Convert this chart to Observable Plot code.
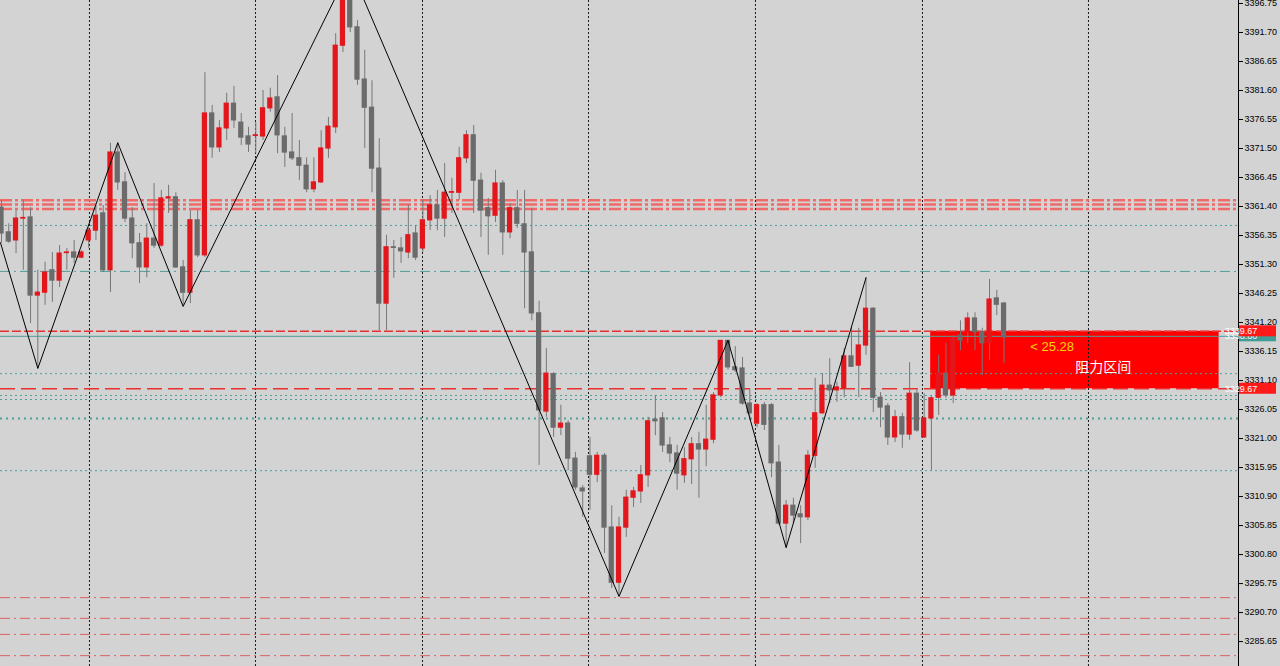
<!DOCTYPE html>
<html><head><meta charset="utf-8">
<script src="https://cdn.jsdelivr.net/npm/d3@7"></script>
<script src="https://cdn.jsdelivr.net/npm/@observablehq/plot@0.6"></script>
<style>html,body{margin:0;padding:0;background:#d3d3d3;overflow:hidden;width:1280px;height:666px}</style>
</head><body><div id="chart"></div>
<script>
// ---- candle data (bar index = position in arrays) ----
const opens  = [3361.2,3356.9,3355.5,3359.3,3359.5,3345.9,3346.4,3350.3,3348.5,3353.3,3353.4,3352.5,3355.5,3357.2,3360.2,3350.3,3370.8,3365.6,3359.3,3355.0,3350.8,3355.8,3354.6,3362.8,3363.0,3350.8,3346.4,3359.0,3352.9,3377.6,3371.7,3375.0,3379.3,3376.0,3373.6,3373.7,3373.6,3378.5,3380.4,3373.6,3370.8,3369.8,3368.5,3364.4,3365.6,3371.5,3375.2,3389.4,3397.8,3392.6,3383.5,3378.6,3368.0,3344.5,3354.3,3354.1,3353.4,3356.7,3354.1,3359.0,3361.6,3359.3,3363.8,3363.8,3369.8,3373.8,3365.9,3361.1,3359.8,3365.4,3356.9,3361.1,3358.3,3353.4,3342.8,3325.7,3332.2,3322.9,3323.6,3317.5,3312.3,3317.9,3314.7,3318.0,3305.5,3295.9,3305.5,3310.7,3311.8,3314.6,3324.3,3324.5,3319.8,3318.4,3314.6,3317.4,3320.0,3319.1,3320.8,3328.5,3338.0,3333.4,3333.2,3327.1,3323.6,3326.8,3326.8,3316.8,3306.2,3309.3,3307.8,3307.3,3318.0,3325.4,3330.2,3329.4,3329.7,3335.3,3333.7,3337.2,3343.6,3328.1,3326.6,3321.2,3324.7,3321.7,3328.8,3321.2,3324.5,3328.1,3332.3,3328.5,3338.9,3339.5,3341.9,3339.5,3337.6,3345.4,3344.5];
const highs  = [3362.5,3358.4,3360.7,3362.5,3361.2,3350.3,3351.7,3353.4,3354.6,3354.1,3355.5,3353.7,3357.7,3361.6,3361.6,3372.4,3372.5,3367.3,3361.2,3356.7,3358.4,3365.4,3364.2,3365.1,3363.8,3352.0,3360.7,3360.7,3384.7,3379.0,3376.4,3381.1,3382.3,3377.6,3375.2,3376.0,3381.6,3382.0,3384.2,3375.2,3377.6,3372.9,3369.9,3369.9,3374.6,3376.9,3391.5,3399.0,3403.0,3393.8,3388.6,3383.3,3373.2,3356.4,3355.5,3356.0,3361.6,3358.1,3362.5,3363.3,3364.2,3368.9,3366.3,3371.7,3374.6,3375.5,3367.2,3362.8,3367.7,3365.9,3361.9,3364.2,3364.2,3361.1,3344.9,3336.7,3332.5,3326.8,3324.1,3318.6,3312.8,3321.2,3318.6,3318.4,3309.3,3307.3,3312.0,3312.5,3316.3,3324.7,3328.5,3325.5,3321.2,3319.8,3319.4,3321.2,3322.1,3326.8,3329.0,3338.0,3338.1,3337.0,3335.1,3329.7,3327.1,3327.3,3327.1,3319.8,3310.2,3310.6,3309.3,3318.9,3331.5,3332.3,3334.9,3330.8,3336.7,3340.3,3340.2,3349.0,3343.8,3329.0,3327.1,3325.9,3325.4,3334.2,3329.4,3328.8,3328.3,3335.5,3337.6,3338.9,3341.5,3342.9,3342.9,3340.2,3348.7,3346.8,3344.7];
const lows   = [3355.0,3355.0,3353.2,3350.3,3341.0,3333.2,3344.2,3344.7,3347.3,3350.3,3351.5,3352.3,3354.1,3355.5,3349.9,3346.4,3364.2,3358.6,3352.3,3348.0,3349.0,3354.1,3354.3,3360.2,3350.6,3344.0,3344.5,3352.5,3352.5,3369.8,3370.8,3372.9,3375.0,3372.0,3370.8,3370.6,3372.9,3377.8,3370.6,3368.2,3369.4,3365.9,3363.8,3363.8,3365.4,3369.8,3374.1,3388.2,3391.7,3382.5,3371.5,3363.8,3339.8,3339.8,3348.9,3351.5,3352.3,3352.0,3353.4,3357.2,3357.2,3356.0,3360.2,3362.5,3368.9,3360.2,3356.0,3352.9,3358.6,3352.9,3355.8,3357.6,3343.6,3341.5,3316.3,3324.7,3321.2,3321.5,3315.4,3312.0,3307.3,3308.5,3313.3,3301.0,3294.9,3293.5,3303.8,3309.0,3309.7,3312.5,3321.5,3318.6,3316.8,3312.0,3313.2,3313.0,3310.6,3316.1,3320.1,3328.1,3332.9,3332.5,3326.8,3324.1,3322.9,3322.4,3314.2,3305.9,3302.0,3306.2,3302.7,3306.7,3315.8,3325.2,3327.1,3327.3,3328.1,3333.4,3328.1,3335.5,3325.5,3322.9,3319.8,3320.3,3319.3,3320.7,3322.1,3321.0,3315.4,3325.0,3328.0,3327.1,3336.3,3337.6,3336.3,3332.0,3334.6,3342.4,3334.1];
const closes = [3356.7,3355.3,3359.3,3359.4,3345.9,3346.4,3349.9,3348.5,3353.2,3353.4,3352.5,3353.4,3357.2,3359.8,3350.3,3370.8,3365.6,3359.3,3355.0,3350.8,3355.8,3354.6,3362.8,3363.0,3350.8,3346.4,3359.0,3352.9,3377.6,3371.7,3375.0,3379.3,3376.4,3373.4,3372.2,3373.8,3378.5,3380.2,3373.8,3370.8,3369.8,3368.5,3364.4,3365.6,3371.5,3375.3,3389.4,3397.8,3392.6,3383.5,3378.6,3368.0,3344.5,3354.3,3354.2,3353.6,3356.4,3352.5,3359.0,3361.6,3359.3,3363.8,3363.9,3369.8,3373.8,3365.9,3360.7,3359.7,3365.4,3356.9,3361.1,3358.4,3353.4,3342.8,3325.9,3332.3,3322.9,3323.6,3317.5,3312.5,3311.8,3314.7,3318.0,3305.5,3295.9,3305.5,3310.7,3311.8,3314.6,3324.0,3324.0,3319.8,3318.4,3314.9,3317.4,3320.0,3319.1,3320.8,3328.5,3338.0,3333.4,3332.9,3327.1,3325.4,3326.8,3323.4,3316.7,3306.2,3309.3,3307.6,3307.3,3318.0,3325.4,3330.2,3329.4,3329.9,3335.3,3333.5,3337.2,3343.6,3328.1,3326.4,3321.2,3324.7,3321.7,3328.8,3322.4,3324.5,3328.0,3332.3,3328.5,3338.4,3338.1,3341.9,3339.5,3337.6,3345.2,3344.3,3338.6];

// ---- zigzag swing points (bar index, price) ----
const zigzagBars   = [-0.14, 5, 16, 25, 48, 85, 100, 108, 119];
const zigzagPrices = [3355.1, 3333.2, 3372.5, 3344.0, 3403.0, 3293.5, 3338.1, 3302.0, 3349.0];

// ---- horizontal levels ----
const bandLevels      = [3362.5, 3361.75, 3360.95];
const tealDotted      = [3358.1, 3332.3, 3328.5, 3327.8, 3315.4];
const tealDotThick    = [3324.5];
const tealDashDot     = [3350.1];
const tealSolid       = [3338.8];
const redDashed       = [3339.67];
const redLongDashed   = [3329.67];
const redDashDotLow   = [3293.3, 3289.7, 3286.9, 3283.2];

// ---- resistance zone ----
const zoneBars   = [127.9, 167.6];
const zonePrices = [3329.67, 3339.67];
const zoneLabel  = "阻力区间";
const zoneDiff   = "< 25.28";
const labelBars   = [141.6, 147.8];
const labelPrices = [3337.0, 3333.4];

// ---- vertical grid (bar positions) ----
const gridBars = [12.11, 34.96, 57.95, 80.8, 103.78, 126.77, 149.62];

// ---- price axis ----
const priceTicks = [3396.75,3391.70,3386.65,3381.60,3376.55,3371.50,3366.45,3361.40,3356.35,3351.30,3346.25,3341.20,3336.15,3331.10,3326.05,3321.00,3315.95,3310.90,3305.85,3300.80,3295.75,3290.70,3285.65];
const priceTags = [
  {p: 3338.80, text: "3338.80", bg: "#3f9c96"},
  {p: 3339.67, text: "3339.67", bg: "#ff1a1a"},
  {p: 3329.67, text: "3329.67", bg: "#ff1a1a"}
];

const candles = opens.map((o, i) => ({i, o, h: highs[i], l: lows[i], c: closes[i]}));
const zigzag = zigzagBars.map((b, k) => ({b, p: zigzagPrices[k]}));

const xDomain = [-0.138, 170.27];
const yDomain = [3281.31, 3397.27];
const RED = "#e3161b", GRAY = "#6b6b6b";

const hl = (vals, o) => Plot.ruleY(vals, {x1: xDomain[0], x2: xDomain[1], ...o});

const chart = Plot.plot({
  width: 1280, height: 666,
  marginTop: 0, marginBottom: 0, marginLeft: 0, marginRight: 42,
  style: {background: "#d3d3d3", fontFamily: "Liberation Sans, Arial, sans-serif", overflow: "hidden"},
  x: {domain: xDomain, axis: null},
  y: {domain: yDomain, axis: null},
  marks: [
    Plot.rect([0], {x1: zoneBars[0], x2: zoneBars[1], y1: zonePrices[0], y2: zonePrices[1], fill: "#ff0000"}),
    Plot.ruleX(gridBars, {stroke: "#1a1a1a", strokeDasharray: "2,2", strokeWidth: 1}),
    hl(bandLevels, {stroke: "#f06a6a", strokeWidth: 2.5, strokeDasharray: "12,3,3,3"}),
    hl(tealDotted, {stroke: "#4f9f9a", strokeWidth: 1, strokeDasharray: "2,3"}),
    hl(tealDotThick, {stroke: "#4f9f9a", strokeWidth: 2, strokeDasharray: "2,4"}),
    hl(tealDashDot, {stroke: "#4f9f9a", strokeWidth: 1, strokeDasharray: "10,4,2,4"}),
    hl(tealSolid, {stroke: "#4f9f9a", strokeWidth: 1}),
    hl(redDashed, {stroke: "#e8302f", strokeWidth: 1.5, strokeDasharray: "9,3"}),
    hl(redLongDashed, {stroke: "#e8302f", strokeWidth: 1.5, strokeDasharray: "15,6"}),
    hl(redDashDotLow, {stroke: "#d96262", strokeWidth: 1, strokeDasharray: "10,4,2,4"}),
    Plot.ruleX(candles, {x: "i", y1: "l", y2: "h", stroke: "#777", strokeWidth: 1}),
    Plot.rect(candles, {
      x1: d => d.i - 0.36, x2: d => d.i + 0.36,
      y1: d => Math.min(d.o, d.c), y2: d => Math.max(d.o, d.c),
      fill: d => d.c > d.o ? RED : GRAY,
      insetTop: -0.6, insetBottom: -0.6
    }),
    Plot.line(zigzag, {x: "b", y: "p", stroke: "#000", strokeWidth: 1}),
    Plot.text([zoneDiff], {x: labelBars[0], y: labelPrices[0], text: d => d, fill: "#ffd400", fontSize: 13, textAnchor: "start", fontFamily: "Liberation Sans, Arial"}),
    Plot.text([zoneLabel], {x: labelBars[1], y: labelPrices[1], text: d => d, fill: "#ffffff", fontSize: 14, textAnchor: "start", fontFamily: "Noto Sans CJK SC"}),
    Plot.ruleX([xDomain[1]], {stroke: "#000", strokeWidth: 1}),
    Plot.axisY(priceTicks, {anchor: "right", tickSize: 4, tickPadding: 2, tickFormat: d => d.toFixed(2), fontSize: 9, stroke: "#000", fill: "#000"})
  ]
});

const y = chart.scale("y");
const svg = d3.select(chart);
const tagX = 1239;
for (const t of priceTags) {
  const yy = y.apply(t.p);
  const g = svg.append("g");
  g.append("rect").attr("x", tagX).attr("y", yy - 5.5).attr("width", 37).attr("height", 11).attr("fill", t.bg);
  g.append("text").attr("x", tagX + 2).attr("y", yy + 3.5).attr("fill", "#fff").attr("font-size", 9)
    .attr("font-family", "Liberation Sans, Arial").text(t.text);
}
document.getElementById("chart").appendChild(chart);
</script>
</body></html>
